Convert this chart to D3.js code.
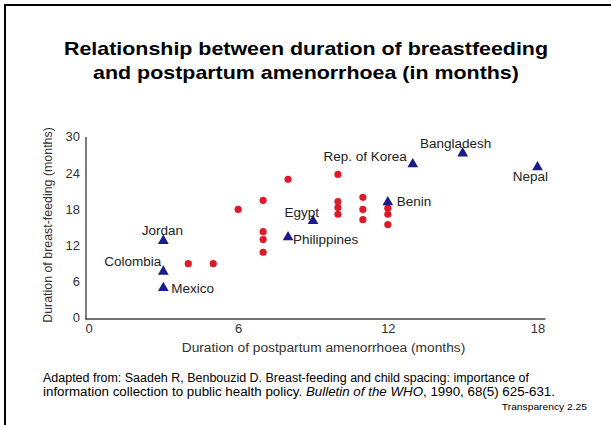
<!DOCTYPE html>
<html>
<head>
<meta charset="utf-8">
<script src="https://cdn.jsdelivr.net/npm/d3@7"></script>
<style>
  body { margin: 0; background: #fff; }
  svg { display: block; font-family: Arial, "Liberation Sans", sans-serif; }
</style>
</head>
<body>
<svg width="611" height="425"></svg>
<script>
// countries (triangles) - x: amenorrhoea, y: breastfeeding, months
const countries = ["Jordan", "Colombia", "Mexico", "Philippines", "Egypt", "Benin", "Rep. of Korea", "Bangladesh", "Nepal"];
const countryAmen = [3, 3, 3, 8, 9, 12, 13, 15, 18];
const countryBf = [12.8, 7.7, 5, 13.4, 16.1, 19.2, 25.5, 27.3, 25];

// other studies (red dots)
const dotAmen = [4, 5, 6, 7, 7, 7, 7, 8, 10, 10, 10, 10, 11, 11, 11, 12, 12, 12];
const dotBf = [9, 9, 18, 19.5, 14.3, 13, 10.9, 23, 23.8, 19.3, 18.3, 17.2, 20, 18, 16.3, 18.2, 17.2, 15.5];

const xTicks = [0, 6, 12, 18];
const yTicks = [0, 6, 12, 18, 24, 30];

const titleLines = ["Relationship between duration of breastfeeding", "and postpartum amenorrhoea (in months)"];
const xTitle = "Duration of postpartum amenorrhoea (months)";
const yTitle = "Duration of breast-feeding (months)";

// where each country label sits relative to its marker
const labelPlace = {
  "Jordan": ["middle", -1, -6],
  "Colombia": ["end", -2, -6],
  "Mexico": ["start", 8, 5],
  "Philippines": ["start", 5, 7],
  "Egypt": ["end", 6, -4],
  "Benin": ["start", 9, 4],
  "Rep. of Korea": ["end", -6, -3],
  "Bangladesh": ["middle", -7, -5],
  "Nepal": ["middle", -7, 14]
};

const svg = d3.select("svg");

// the scan is a bit wider than the fonts here, so stretch text to fit
const widen = (sel, k) => sel.each(function() {
  const w = this.getComputedTextLength();
  d3.select(this).attr("textLength", w * k).attr("lengthAdjust", "spacingAndGlyphs");
});

// frame (only top and left show)
svg.append("path")
  .attr("d", "M5,425V5H611")
  .attr("fill", "none")
  .attr("stroke", "#000")
  .attr("stroke-width", 2);

svg.append("g")
  .selectAll("text")
  .data(titleLines)
  .enter()
  .append("text")
  .attr("x", 306)
  .attr("y", (d, i) => 55 + i * 24)
  .attr("text-anchor", "middle")
  .attr("font-weight", "bold")
  .attr("font-size", 18.5)
  .attr("fill", "#000")
  .text(d => d)
  .call(widen, 1.157);

const x = d3.scaleLinear().domain([0, 18]).range([88.5, 537.5]);
const y = d3.scaleLinear().domain([0, 30]).range([318, 137]);

const axisColor = "#444";

svg.append("line")
  .attr("x1", x(0) - 2.5).attr("x2", x(0) - 2.5)
  .attr("y1", y(0) + 1.5).attr("y2", y(30))
  .attr("stroke", axisColor).attr("stroke-width", 1.4);
svg.append("line")
  .attr("x1", x(0) - 3.2).attr("x2", x(18) + 8)
  .attr("y1", y(0) + 1).attr("y2", y(0) + 1)
  .attr("stroke", axisColor).attr("stroke-width", 1.4);

const xAxis = svg.append("g")
  .attr("transform", `translate(0,${y(0) + 1})`)
  .call(d3.axisBottom(x).tickValues(xTicks).tickSize(0).tickPadding(5));
const yAxis = svg.append("g")
  .attr("transform", `translate(${x(0) - 2.5},0)`)
  .call(d3.axisLeft(y).tickValues(yTicks).tickSize(0).tickPadding(6));

[xAxis, yAxis].forEach(g => {
  g.select(".domain").remove();
  g.selectAll("text")
    .attr("font-family", "Arial, 'Liberation Sans', sans-serif")
    .attr("font-size", 12)
    .attr("fill", "#333")
    .call(widen, 1.08);
});

svg.append("text")
  .attr("x", 323.5)
  .attr("y", 352)
  .attr("text-anchor", "middle")
  .attr("font-size", 12)
  .attr("fill", "#333")
  .text(xTitle)
  .call(widen, 1.146);

svg.append("text")
  .attr("transform", "translate(52,225) rotate(-90)")
  .attr("text-anchor", "middle")
  .attr("font-size", 12.4)
  .attr("fill", "#333")
  .text(yTitle);

// red dots
svg.append("g")
  .selectAll("circle")
  .data(dotAmen.map((a, i) => ({ a, b: dotBf[i] })))
  .enter()
  .append("circle")
  .attr("cx", d => x(d.a))
  .attr("cy", d => y(d.b))
  .attr("r", 3.6)
  .attr("fill", "#dd1a2a");

// triangles and labels
const pts = countries.map((c, i) => ({ c, a: countryAmen[i], b: countryBf[i] }));
const tri = d3.symbol().type(d3.symbolTriangle).size(50);

svg.append("g")
  .selectAll("path")
  .data(pts)
  .enter()
  .append("path")
  .attr("d", tri)
  .attr("transform", d => `translate(${x(d.a)},${y(d.b)})`)
  .attr("fill", "#1b1b8a");

svg.append("g")
  .selectAll("text")
  .data(pts)
  .enter()
  .append("text")
  .attr("x", d => x(d.a) + labelPlace[d.c][1])
  .attr("y", d => y(d.b) + labelPlace[d.c][2])
  .attr("text-anchor", d => labelPlace[d.c][0])
  .attr("font-size", 12.5)
  .attr("fill", "#222")
  .text(d => d.c)
  .call(widen, 1.08);

// source note
svg.append("text")
  .attr("x", 43)
  .attr("y", 382)
  .attr("font-size", 12.3)
  .attr("fill", "#000")
  .attr("textLength", 486)
  .attr("lengthAdjust", "spacingAndGlyphs")
  .text("Adapted from: Saadeh R, Benbouzid D. Breast-feeding and child spacing: importance of");
const line2 = svg.append("text")
  .attr("x", 43)
  .attr("y", 395.5)
  .attr("font-size", 12.3)
  .attr("fill", "#000")
  .attr("textLength", 512)
  .attr("lengthAdjust", "spacingAndGlyphs");
line2.append("tspan").text("information collection to public health policy.  ");
line2.append("tspan").attr("font-style", "italic").text("Bulletin of the WHO");
line2.append("tspan").text(", 1990, 68(5) 625-631.");

svg.append("text")
  .attr("x", 587)
  .attr("y", 410)
  .attr("text-anchor", "end")
  .attr("font-size", 9.5)
  .attr("fill", "#000")
  .text("Transparency 2.25")
  .call(widen, 1.08);
</script>
</body>
</html>
